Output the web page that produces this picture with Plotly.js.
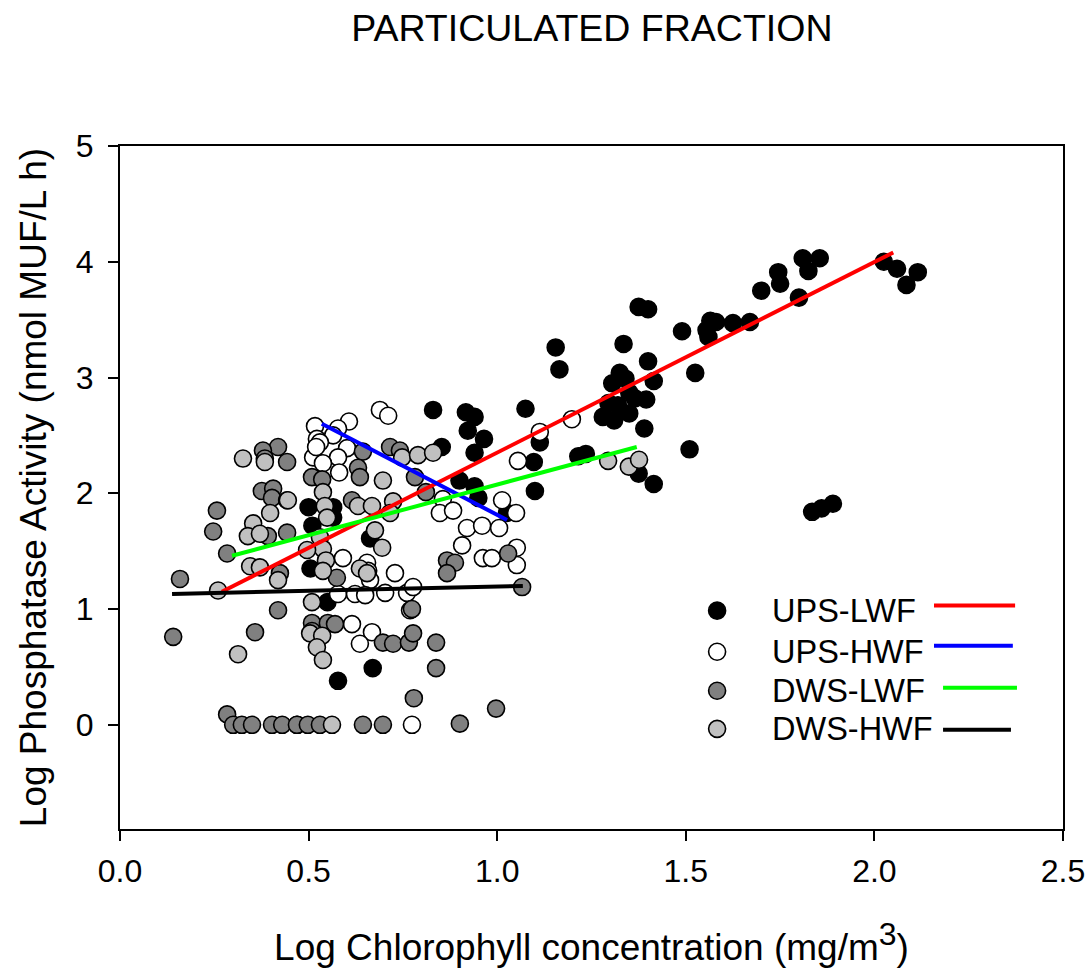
<!DOCTYPE html>
<html>
<head>
<meta charset="utf-8">
<script src="https://cdn.plot.ly/plotly-3.0.1.min.js"></script>
<style>html,body{margin:0;padding:0;background:#fff;}#chart{width:1092px;height:970px;}</style>
</head>
<body>
<div id="chart"></div>
<script>
// ---- Data ----
var upsLwfX = [2.025,2.06,2.115,2.085,1.81,1.855,1.825,1.745,1.75,1.70,1.80,1.375,1.40,1.565,1.58,1.625,1.67,1.49,1.555,1.56,1.155,1.335,1.165,1.40,1.325,1.305,1.34,1.525,1.415,1.35,1.365,1.395,1.295,1.32,1.28,1.31,1.35,1.39,1.51,1.215,1.235,1.375,1.415,1.835,1.86,1.89,1.075,0.83,0.917,0.94,0.922,0.965,0.94,1.113,1.097,1.10,0.853,0.90,0.94,0.95,1.026,0.50,0.565,0.51,0.565,0.663,0.505,0.55,0.67,0.578,0.47];
var upsLwfY = [4.00,3.94,3.91,3.80,4.03,4.03,3.92,3.91,3.81,3.75,3.69,3.61,3.59,3.49,3.48,3.47,3.48,3.40,3.41,3.35,3.26,3.29,3.07,3.14,3.04,2.95,2.99,3.04,2.97,2.87,2.82,2.81,2.78,2.76,2.66,2.63,2.69,2.56,2.38,2.32,2.34,2.17,2.08,1.84,1.87,1.91,2.73,2.72,2.70,2.66,2.54,2.47,2.35,2.44,2.27,2.02,2.40,2.11,2.06,1.96,1.83,1.88,1.88,1.72,1.79,1.61,1.35,1.06,0.49,0.38,0.0];

var upsHwfX = [0.689,0.711,0.607,0.517,0.578,0.565,0.522,0.530,0.602,0.512,0.578,0.538,0.581,1.113,1.198,1.055,1.013,1.050,0.856,0.848,0.883,0.920,0.960,1.005,0.907,0.591,0.962,0.986,1.052,1.052,0.655,0.729,0.658,0.663,0.578,0.623,0.650,0.703,0.761,0.777,0.769,0.615,0.668,0.636,0.774,0.520];
var upsHwfY = [2.72,2.67,2.62,2.58,2.56,2.50,2.47,2.44,2.39,2.31,2.31,2.26,2.18,2.53,2.64,2.28,1.94,1.83,1.95,1.83,1.85,1.70,1.72,1.70,1.55,1.44,1.44,1.44,1.53,1.38,1.40,1.31,1.33,1.25,1.13,1.13,1.12,1.14,1.14,1.19,0.99,0.87,0.80,0.70,0.0,2.40];

var dwsLwfX = [0.419,0.379,0.443,0.384,0.716,0.742,0.644,0.631,0.636,0.509,0.536,0.376,0.406,0.403,0.443,0.257,0.247,0.284,0.392,0.443,0.615,0.782,0.811,0.867,0.888,0.867,1.029,0.575,0.159,0.424,0.419,0.141,0.358,0.509,0.551,0.570,0.509,0.697,0.724,0.766,0.777,0.774,0.838,0.838,0.779,0.997,1.066,0.284,0.30,0.323,0.35,0.403,0.43,0.469,0.498,0.53,0.644,0.697,0.901];
var dwsLwfY = [2.40,2.37,2.27,2.30,2.40,2.37,2.36,2.22,2.14,2.14,2.12,2.02,2.04,1.96,1.94,1.85,1.67,1.48,1.63,1.66,1.94,2.14,2.01,1.42,1.40,1.31,1.48,1.27,1.26,1.31,0.99,0.76,0.80,0.88,0.88,0.87,0.81,0.71,0.70,0.71,0.79,1.00,0.71,0.49,0.23,0.14,1.19,0.09,0.0,0.0,0.0,0.0,0.0,0.0,0.0,0.0,0.0,0.0,0.01];

var dwsHwfX = [0.326,0.384,0.748,0.697,0.538,0.543,0.549,0.445,0.631,0.668,0.724,0.716,0.398,0.353,0.339,0.371,0.676,0.695,0.530,0.538,0.546,0.496,0.345,0.371,0.636,0.655,0.419,0.538,0.260,0.509,0.504,0.536,0.522,0.538,0.313,0.562,0.790,0.830,1.294,1.349,1.376];
var dwsHwfY = [2.30,2.27,2.31,2.11,2.01,1.89,1.79,1.94,1.89,1.89,1.93,1.83,1.83,1.74,1.63,1.65,1.68,1.53,1.62,1.52,1.42,1.51,1.37,1.36,1.35,1.31,1.25,1.33,1.16,1.06,0.79,0.77,0.67,0.56,0.61,0.0,2.33,2.35,2.28,2.23,2.29];

// Regression line end points
var fitUpsLwfX = [0.27, 2.05],  fitUpsLwfY = [1.15, 4.08];
var fitUpsHwfX = [0.535, 1.026], fitUpsHwfY = [2.60, 1.77];
var fitDwsLwfX = [0.297, 1.37], fitDwsLwfY = [1.46, 2.40];
var fitDwsHwfX = [0.138, 1.068], fitDwsHwfY = [1.13, 1.20];

var seriesNames = ['UPS-LWF','UPS-HWF','DWS-LWF','DWS-HWF'];
var xTickVals = [0, 0.5, 1.0, 1.5, 2.0, 2.5];
var yTickVals = [0, 1, 2, 3, 4, 5];

// ---- Styling ----
var FONT = 'Liberation Sans, Arial, sans-serif';
var fills = ['#000000','#ffffff','#808080','#c0c0c0'];
var lineColors = ['#ff0000','#0000ff','#00ff00','#000000'];

function pts(x, y, fill){
  return {type:'scatter', mode:'markers', x:x, y:y, showlegend:false, hoverinfo:'skip',
    marker:{size:17, color:fill, line:{color:'#000', width:1.6}}};
}
function fit(x, y, c){
  return {type:'scatter', mode:'lines', x:x, y:y, showlegend:false, hoverinfo:'skip',
    line:{color:c, width:4}};
}

var traces = [
  pts(upsLwfX, upsLwfY, fills[0]),
  pts(upsHwfX, upsHwfY, fills[1]),
  pts(dwsLwfX, dwsLwfY, fills[2]),
  pts(dwsHwfX, dwsHwfY, fills[3]),
  fit(fitUpsLwfX, fitUpsLwfY, lineColors[0]),
  fit(fitUpsHwfX, fitUpsHwfY, lineColors[1]),
  fit(fitDwsLwfX, fitDwsLwfY, lineColors[2]),
  fit(fitDwsHwfX, fitDwsHwfY, lineColors[3])
];

// Manual legend (marker, label, then line) in data coordinates
var legRowY = [0.986, 0.631, 0.294, -0.035];
var legLineY = [1.03, 0.683, 0.32, -0.043];
var legLineX0 = [2.158, 2.158, 2.182, 2.182];
var legLineX1 = [2.373, 2.367, 2.378, 2.362];
var shapes = [], annotations = [];
for (var i = 0; i < 4; i++) {
  shapes.push({type:'circle', xref:'x', yref:'y', xsizemode:'pixel', ysizemode:'pixel',
    xanchor:1.583, yanchor:legRowY[i], x0:-8.5, x1:8.5, y0:-8.5, y1:8.5,
    fillcolor:fills[i], line:{color:'#000', width:1.6}});
  shapes.push({type:'line', xref:'x', yref:'y', x0:legLineX0[i], x1:legLineX1[i],
    y0:legLineY[i], y1:legLineY[i], line:{color:lineColors[i], width:4}});
  annotations.push({xref:'x', yref:'y', x:1.722, y:legRowY[i], xanchor:'left', yanchor:'middle',
    text:seriesNames[i], showarrow:false, font:{family:FONT, size:32.5, color:'#000'}});
}

var layout = {
  width:1092, height:970,
  paper_bgcolor:'#fff', plot_bgcolor:'#fff',
  margin:{l:120, r:29, t:146, b:141},
  font:{family:FONT, color:'#000'},
  title:{text:'PARTICULATED FRACTION', font:{family:FONT, size:37.5, color:'#000'},
    x:0.542, xanchor:'center', y:0.971, yanchor:'middle'},
  xaxis:{range:[0,2.5], tickvals:xTickVals, tickformat:'.1f',
    showgrid:false, zeroline:false, showline:true, mirror:true, linecolor:'#000', linewidth:2,
    ticks:'outside', ticklen:10, tickwidth:2, tickcolor:'#000',
    tickfont:{family:FONT, size:32, color:'#000'}, ticklabelstandoff:3,
    title:{text:'Log Chlorophyll concentration (mg/m<sup><span style="font-size:32px">3</span></sup>)', font:{family:FONT, size:37, color:'#000'}, standoff:46}},
  yaxis:{range:[-0.9,5], tickvals:yTickVals,
    showgrid:false, zeroline:false, showline:true, mirror:true, linecolor:'#000', linewidth:2,
    ticks:'outside', ticklen:10, tickwidth:2, tickcolor:'#000',
    tickfont:{family:FONT, size:32, color:'#000'}, ticklabelstandoff:8,
    title:{text:'Log Phosphatase Activity (nmol MUF/L h)', font:{family:FONT, size:37, color:'#000'}, standoff:18}},
  shapes:shapes,
  annotations:annotations,
  showlegend:false
};

Plotly.newPlot('chart', traces, layout, {staticPlot:true, displayModeBar:false});
</script>
</body>
</html>
